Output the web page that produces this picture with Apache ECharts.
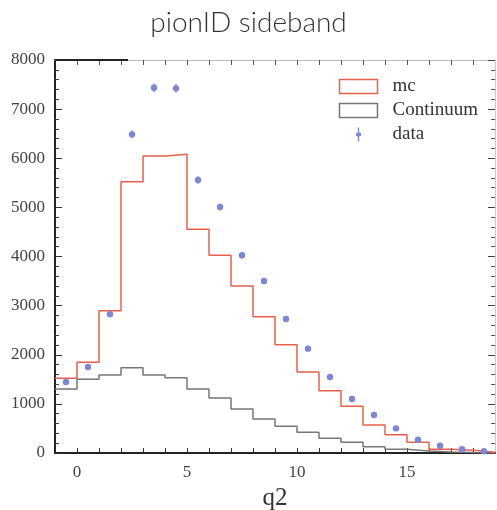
<!DOCTYPE html>
<html><head><meta charset="utf-8">
<script src="https://cdn.jsdelivr.net/npm/echarts@6/dist/echarts.min.js"></script>
<style>html,body{margin:0;padding:0;background:#fff}#c{width:497px;height:510px}</style>
</head><body><div id="c"></div>
<script>
// bin edges (lower) and histogram contents
const binEdges = [-1,0,1,2,3,4,5,6,7,8,9,10,11,12,13,14,15,16,17,18,19];
const mcValues = [1520,1846,2897,5523,6046,6080,4553,4024,3400,2775,2205,1649,1269,950,570,373,217,75,55,15];
const contValues = [1303,1500,1588,1737,1588,1533,1303,1120,896,692,543,423,299,218,129,75,40,20,10,5];
const dataCenters = [-0.5,0.5,1.5,2.5,3.5,4.5,5.5,6.5,7.5,8.5,9.5,10.5,11.5,12.5,13.5,14.5,15.5,16.5,17.5,18.5];
const dataValues = [1445,1750,2823,6487,7437,7423,5557,5008,4024,3501,2728,2124,1547,1099,774,502,271,149,75,35];
const dataErrors = [38,42,53,80,86,86,75,71,63,59,52,46,39,33,28,22,16,12,9,6];
const xTickLabels = [0,5,10,15];
const xMinorTicks = [0,1,2,3,4,5,6,7,8,9,10,11,12,13,14,15,16,17,18];

function stepData(vals){
  const d = vals.map((v,i)=>[binEdges[i], v]);
  d.push([binEdges[vals.length], vals[vals.length-1]]);
  return d;
}
const RED = '#e8604c', GRAY = '#777777', BLUE = '#7e86d8';
const serif = 'Liberation Serif';

const chart = echarts.init(document.getElementById('c'));
const grid = {left:55, right:2, top:60, bottom:57, outerBoundsMode:'none', containLabel:false};
const xBase = {type:'value', min:-1, max:19, gridIndex:0, splitLine:{show:false}};
const yBase = {type:'value', min:0, max:8000, interval:1000, splitLine:{show:false}};
chart.setOption({
  animation:false,
  title:{text:'pionID sideband', left:'center', top:4,
    textStyle:{fontFamily:'Lato', fontWeight:300, fontSize:28, color:'#333'}},
  grid: grid,
  legend:{
    orient:'vertical', right:14, top:72, itemWidth:38, itemHeight:14, itemGap:5,
    textStyle:{fontFamily:serif, fontSize:19, color:'#333', padding:[0,0,0,10]},
    data:[
      {name:'mc', icon:'rect', itemStyle:{color:'rgba(0,0,0,0)', borderColor:RED, borderWidth:1.5}},
      {name:'Continuum', icon:'rect', itemStyle:{color:'rgba(0,0,0,0)', borderColor:GRAY, borderWidth:1.5}},
      {name:'data', icon:'path://M9,0 L11,0 L11,7 A3,3 0 0 1 11,13 L11,20 L9,20 L9,13 A3,3 0 0 1 9,7 Z', itemStyle:{color:BLUE}}
    ]
  },
  xAxis:[
    Object.assign({}, xBase, {position:'bottom', name:'q2', nameLocation:'middle', nameGap:32,
      nameTextStyle:{fontFamily:serif, fontSize:25, color:'#333'},
      axisLine:{show:true, onZero:false, lineStyle:{color:'#222', width:2}},
      axisTick:{show:true, inside:true, length:5, customValues:xMinorTicks, lineStyle:{color:'#333'}},
      axisLabel:{customValues:xTickLabels, margin:11, fontFamily:serif, fontSize:17, color:'#444'}}),
    Object.assign({}, xBase, {position:'top', axisLine:{show:true, onZero:false, lineStyle:{color:'#bbb', width:1}},
      axisTick:{show:true, inside:true, length:5, customValues:xMinorTicks, lineStyle:{color:'#555'}},
      axisLabel:{show:false}})
  ],
  yAxis:[
    Object.assign({}, yBase, {position:'left',
      axisLine:{show:true, onZero:false, lineStyle:{color:'#222', width:2}},
      axisTick:{show:true, inside:true, length:7, lineStyle:{color:'#333'}},
      minorTick:{show:true, splitNumber:5, length:4, lineStyle:{color:'#444'}},
      axisLabel:{margin:10, fontFamily:serif, fontSize:17, color:'#444', formatter:function(v){return String(v);}}}),
    Object.assign({}, yBase, {position:'right',
      axisLine:{show:true, onZero:false, lineStyle:{color:'#ccc', width:1}},
      axisTick:{show:true, inside:true, length:7, lineStyle:{color:'#444'}},
      minorTick:{show:true, splitNumber:5, length:4, lineStyle:{color:'#555'}},
      axisLabel:{show:false}})
  ],
  graphic:[{type:'line', shape:{x1:55, y1:60, x2:128, y2:60}, style:{stroke:'#222', lineWidth:2}, z:100}],
  series:[
    {name:'Continuum', type:'line', step:'end', data:stepData(contValues), showSymbol:false,
     lineStyle:{color:GRAY, width:1.5}, itemStyle:{color:GRAY}, z:3},
    {name:'mc', type:'line', step:'end', data:stepData(mcValues), showSymbol:false,
     lineStyle:{color:RED, width:1.5}, itemStyle:{color:RED}, z:4},
    {name:'data', type:'custom', itemStyle:{color:BLUE},
     data: dataCenters.map((c,i)=>[c, dataValues[i], dataErrors[i]]),
     encode:{x:0, y:1},
     renderItem:function(params, api){
       const x = api.value(0), y = api.value(1), e = api.value(2);
       const p = api.coord([x,y]);
       const lo = api.coord([x, y-e]), hi = api.coord([x, y+e]);
       return {type:'group', children:[
         {type:'line', shape:{x1:lo[0], y1:lo[1], x2:hi[0], y2:hi[1]}, style:{stroke:BLUE, lineWidth:1.5}},
         {type:'circle', shape:{cx:p[0], cy:p[1], r:3.2}, style:{fill:BLUE}}
       ]};
     }, z:5}
  ]
});
</script></body></html>
